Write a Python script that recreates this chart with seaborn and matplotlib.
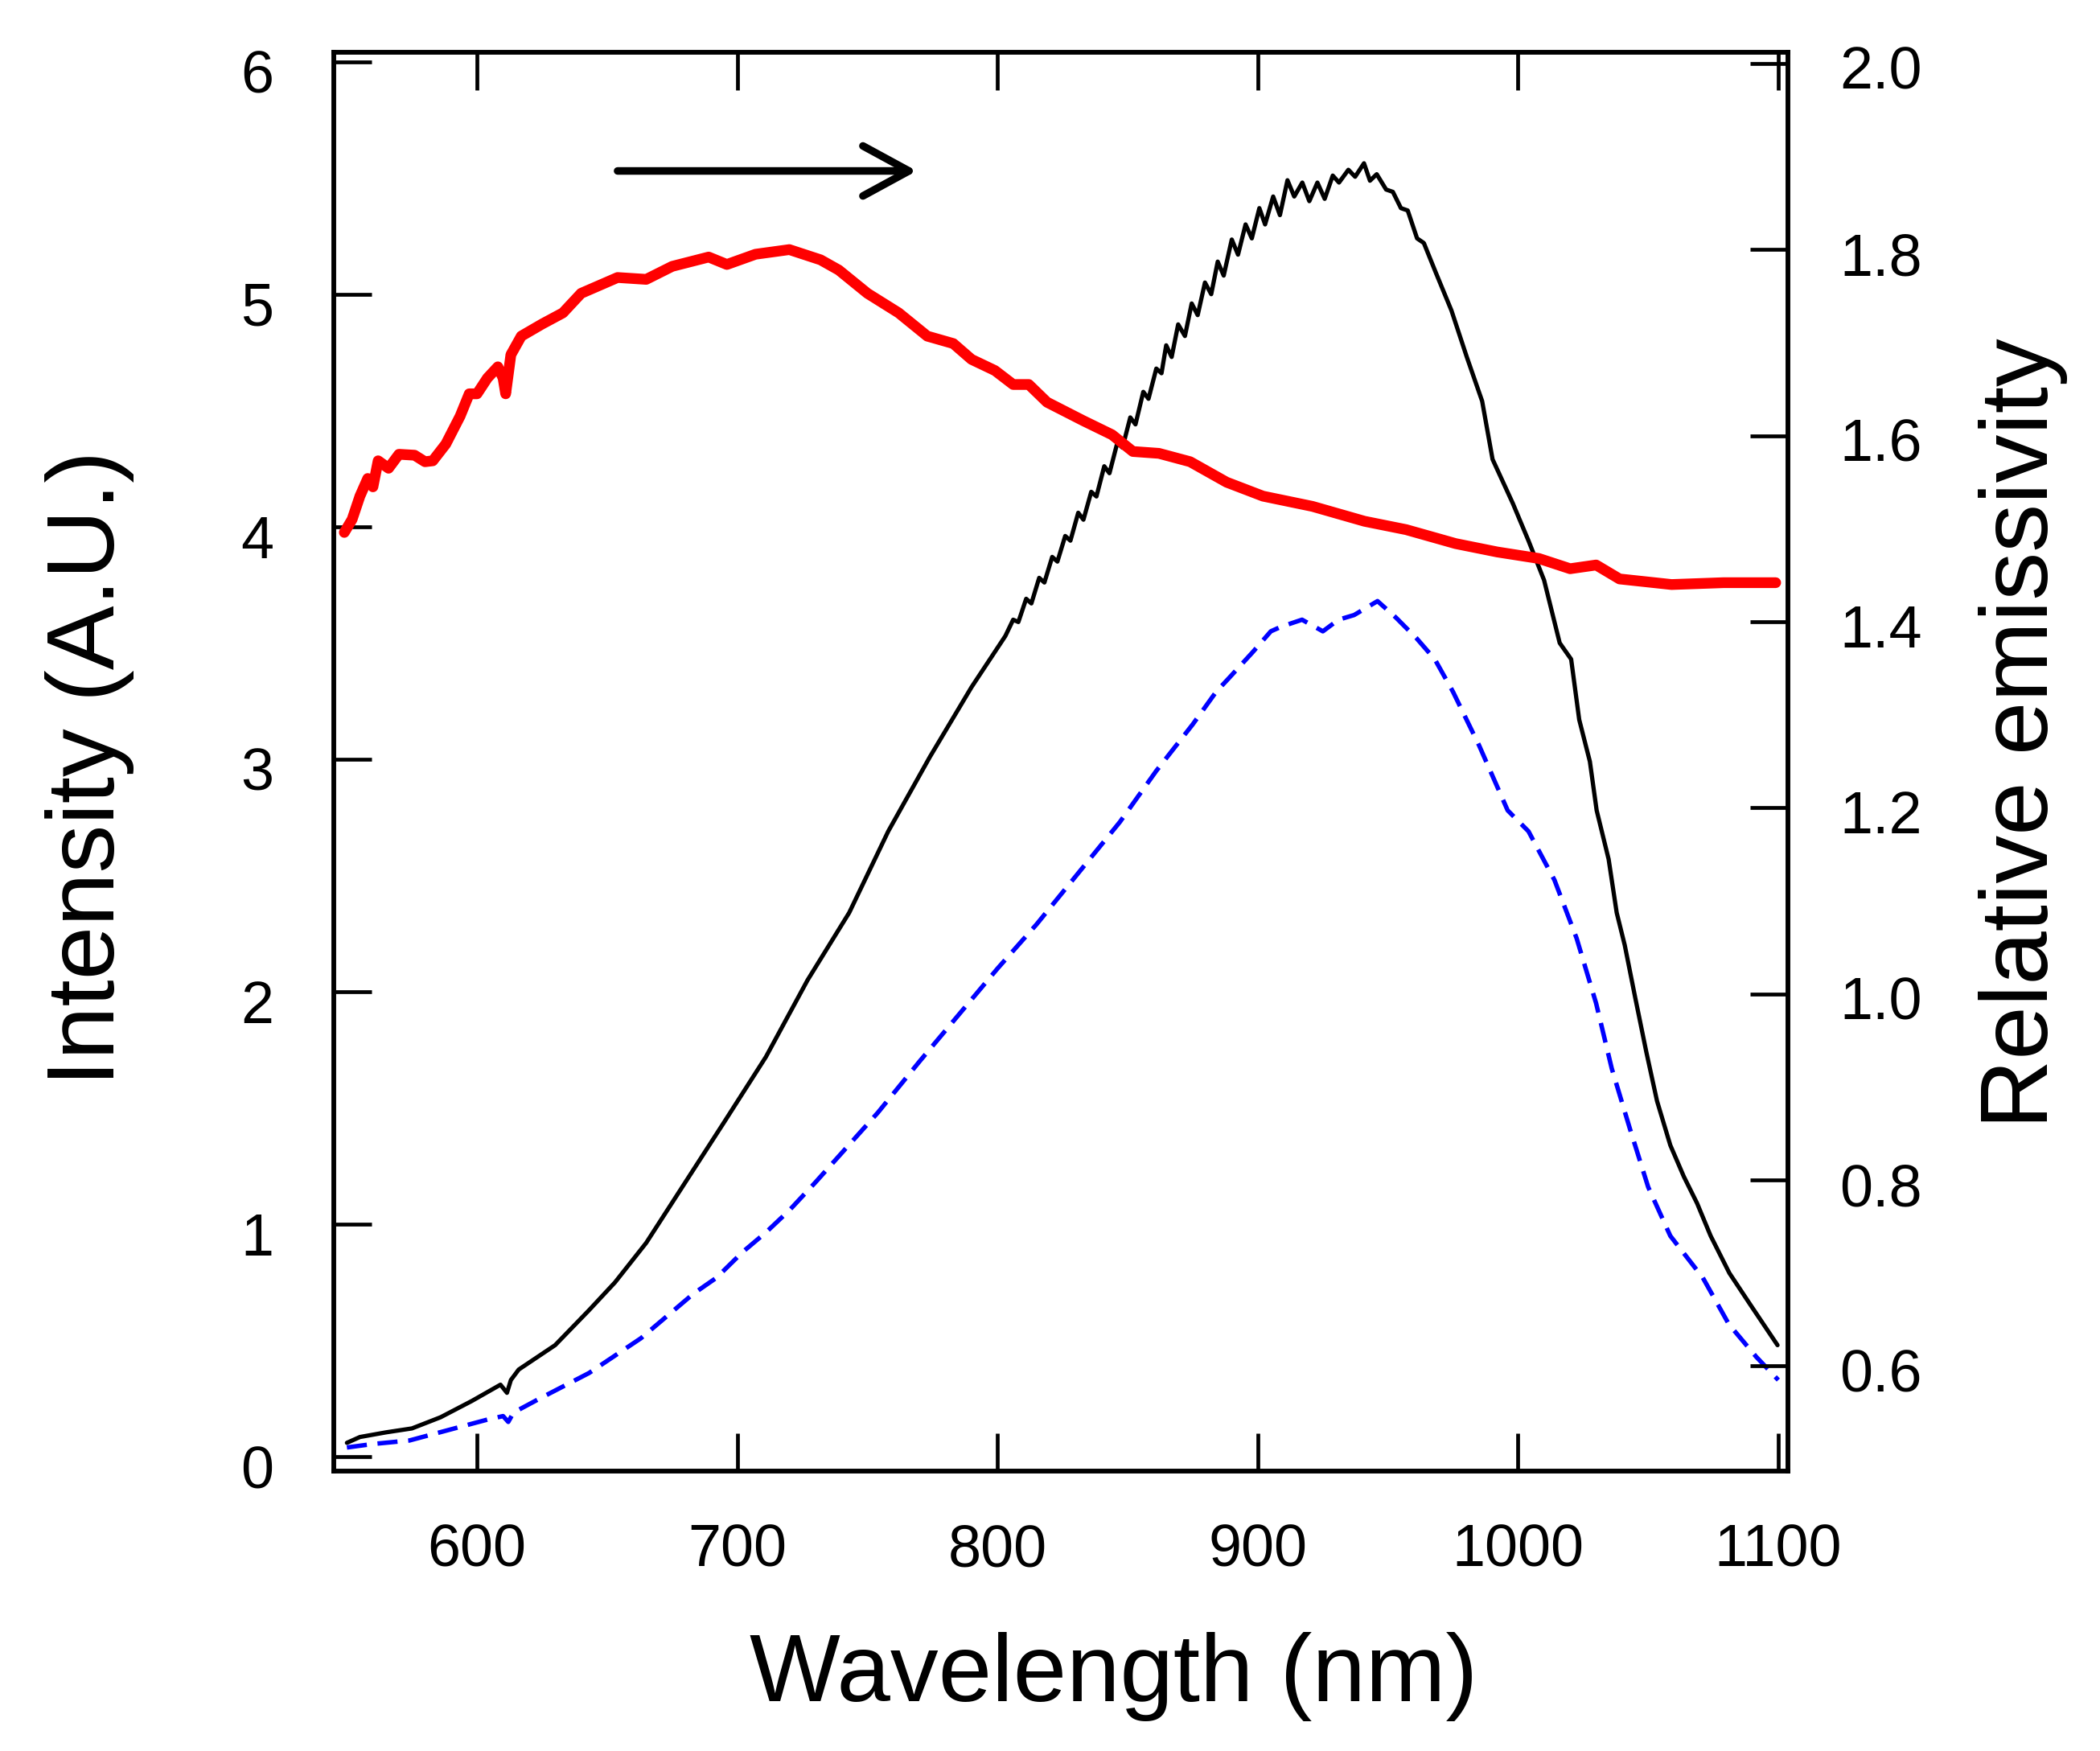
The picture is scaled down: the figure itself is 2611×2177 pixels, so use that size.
import numpy as np
import pandas as pd
import seaborn as sns
import matplotlib.pyplot as plt
import matplotlib.transforms as mtransforms

# black solid curve, intensity (left axis)
black_nm = [550, 555, 565, 575, 586, 598, 609, 611.5, 613, 616,
            630, 643, 653, 665, 680, 695, 711, 727, 743, 758,
            774, 790, 803, 806, 808, 811, 813, 816, 818, 821,
            823, 826, 828, 831, 833, 836, 838, 841, 843, 846,
            848, 851, 853, 856, 858, 861, 863, 864.8, 866.9, 869.4,
            872, 874.6, 876.9, 879.7, 882.1, 884.6, 886.9, 890, 892.4, 895.3,
            897.7, 900.6, 902.8, 905.9, 908.5, 911.4, 914, 917.1, 919.8, 922.9,
            925.7, 928.8, 931.2, 934.8, 937.4, 940.8, 943.1, 945.7, 949.3, 951.9,
            955, 957.6, 961.2, 963.8, 968.5, 974.4, 980.3, 986.2, 990.2, 998,
            1004, 1010, 1016, 1020.4, 1023.5, 1027.6, 1030.2, 1034.8, 1037.9, 1041,
            1045.1, 1049.3, 1053.4, 1058.5, 1063.7, 1068.8, 1074, 1081.2, 1089.5, 1099.7]
black_int = [0.06, 0.085, 0.105, 0.122, 0.17, 0.24, 0.31, 0.275, 0.33, 0.375,
             0.48, 0.63, 0.75, 0.92, 1.18, 1.44, 1.72, 2.05, 2.34, 2.69,
             3.01, 3.31, 3.53, 3.60, 3.59, 3.69, 3.67, 3.78, 3.76, 3.87,
             3.85, 3.96, 3.94, 4.06, 4.03, 4.15, 4.13, 4.26, 4.23, 4.36,
             4.34, 4.47, 4.44, 4.58, 4.55, 4.68, 4.66, 4.78, 4.73, 4.87,
             4.82, 4.96, 4.91, 5.05, 5.00, 5.14, 5.08, 5.235, 5.17, 5.30,
             5.24, 5.37, 5.30, 5.42, 5.34, 5.49, 5.42, 5.48, 5.40, 5.48,
             5.41, 5.51, 5.48, 5.535, 5.505, 5.563, 5.488, 5.516, 5.45, 5.44,
             5.37, 5.36, 5.24, 5.22, 5.09, 4.93, 4.73, 4.54, 4.29, 4.10,
             3.94, 3.77, 3.50, 3.43, 3.17, 2.99, 2.78, 2.57, 2.34, 2.20,
             1.97, 1.74, 1.53, 1.34, 1.205, 1.09, 0.95, 0.79, 0.65, 0.48]

# blue dashed curve, intensity (left axis)
blue_nm = [550, 560, 574, 594, 604, 610, 612, 614, 624, 643,
           663, 683, 692, 702, 711, 720, 730, 754, 770, 785,
           800, 815, 831, 847, 861, 875, 884, 889, 898, 905,
           909, 917, 925, 931, 937, 946, 953, 961, 968, 975,
           985, 996, 1004, 1014, 1022.5, 1030, 1036, 1043, 1050, 1058.5,
           1071, 1081, 1091.5, 1100]
blue_int = [0.04, 0.055, 0.07, 0.13, 0.16, 0.175, 0.15, 0.19, 0.25, 0.36,
            0.51, 0.70, 0.77, 0.88, 0.965, 1.06, 1.18, 1.48, 1.70, 1.90,
            2.10, 2.29, 2.51, 2.73, 2.95, 3.15, 3.29, 3.35, 3.46, 3.55,
            3.57, 3.60, 3.55, 3.60, 3.62, 3.68, 3.61, 3.52, 3.43, 3.29,
            3.06, 2.78, 2.69, 2.48, 2.23, 1.95, 1.67, 1.41, 1.16, 0.95,
            0.77, 0.57, 0.43, 0.33]

# red thick curve, relative emissivity (right axis)
red_nm = [549, 552, 555, 558, 560, 562, 566, 570, 576, 580,
          583, 588, 593.5, 597, 600, 604, 608, 610, 611, 613,
          617, 625, 633, 640, 654, 665, 675, 689, 696, 707,
          720, 732, 739, 750, 762, 773, 783, 790, 799, 806,
          812, 819, 833, 844, 852, 862, 874, 888, 902, 921,
          941, 957, 976, 992, 1008, 1020, 1030, 1039, 1059, 1079,
          1099]
red_emis = [1.496, 1.51, 1.535, 1.554, 1.545, 1.573, 1.565, 1.58, 1.579, 1.572,
            1.573, 1.591, 1.621, 1.645, 1.645, 1.662, 1.674, 1.662, 1.645, 1.687,
            1.707, 1.720, 1.732, 1.753, 1.770, 1.768, 1.782, 1.792, 1.784, 1.795,
            1.800, 1.789, 1.778, 1.753, 1.732, 1.707, 1.699, 1.682, 1.670, 1.655,
            1.655, 1.636, 1.616, 1.601, 1.583, 1.581, 1.572, 1.550, 1.535, 1.524,
            1.508, 1.499, 1.484, 1.475, 1.468, 1.457, 1.461, 1.446, 1.440, 1.442,
            1.442]

x_ticks = [600, 700, 800, 900, 1000, 1100]
left_ticks = [0, 1, 2, 3, 4, 5, 6]
right_ticks = [0.6, 0.8, 1.0, 1.2, 1.4, 1.6, 1.8, 2.0]
right_tick_labels = ["0.6", "0.8", "1.0", "1.2", "1.4", "1.6", "1.8", "2.0"]

sns.set_style("ticks")
plt.rcParams["font.family"] = ["Liberation Sans", "DejaVu Sans"]
plt.rcParams["text.color"] = "black"
plt.rcParams["axes.labelcolor"] = "black"

fig = plt.figure(figsize=(13.055, 10.885), dpi=200)
ax = fig.add_axes([0.159, 0.1598, 0.6924, 0.8103])
ax2 = ax.twinx()

sns.lineplot(x=black_nm, y=black_int, ax=ax, color="black", lw=1.9,
             estimator=None, sort=False)
sns.lineplot(x=blue_nm, y=blue_int, ax=ax, color="blue", lw=2.0,
             estimator=None, sort=False)
ax.lines[-1].set_dashes((4.5, 2.4))
sns.lineplot(x=red_nm, y=red_emis, ax=ax2, color="red", lw=4.8,
             estimator=None, sort=False)

ax.set_xlim(545, 1103.7)
ax.set_ylim(-0.062, 6.04)
ax2.set_ylim(0.487, 2.012)
ax.set_xticks(x_ticks)
ax.set_yticks(left_ticks)
ax2.set_yticks(right_ticks)
ax2.set_yticklabels(right_tick_labels)

for a in (ax, ax2):
    for sp in a.spines.values():
        sp.set_linewidth(2.0)
        sp.set_color("black")

ax.tick_params(axis="x", direction="in", length=17, width=1.7, top=True,
               bottom=True, labelsize=26.5, pad=23, colors="black")
ax.tick_params(axis="y", direction="in", length=17, width=1.7, left=True,
               right=False, labelsize=26.5, pad=27, colors="black")
ax2.tick_params(axis="y", direction="in", length=17, width=1.7, right=True,
                left=False, labelsize=26.5, pad=23, colors="black")

ax.set_xlabel("Wavelength (nm)", fontsize=43, color="black")
ax.set_ylabel("Intensity (A.U.)", fontsize=43, color="black")
ax2.set_ylabel("Relative emissivity", fontsize=43, color="black")
ax.xaxis.set_label_coords(0.5365, -0.1134)
ax.yaxis.set_label_coords(-0.137, 0.4955)
ax2.yaxis.set_label_coords(1.131, 0.52)

# arrow pointing to the right axis (red curve)
ax.annotate("", xy=(769, 5.53), xytext=(654, 5.53),
            arrowprops=dict(arrowstyle="->,head_length=1.03,head_width=0.56",
                            lw=3.4, color="black", shrinkA=0, shrinkB=0,
                            capstyle="round", joinstyle="round",
                            mutation_scale=20))

# left labels sit a bit below their ticks in the original
shift_left = mtransforms.ScaledTranslation(0, -12 / 200, fig.dpi_scale_trans)
for lab in ax.get_yticklabels():
    lab.set_transform(lab.get_transform() + shift_left)
shift_right = mtransforms.ScaledTranslation(0, -5 / 200, fig.dpi_scale_trans)
for lab in ax2.get_yticklabels():
    lab.set_transform(lab.get_transform() + shift_right)

fig.savefig("out.png", dpi=200)
